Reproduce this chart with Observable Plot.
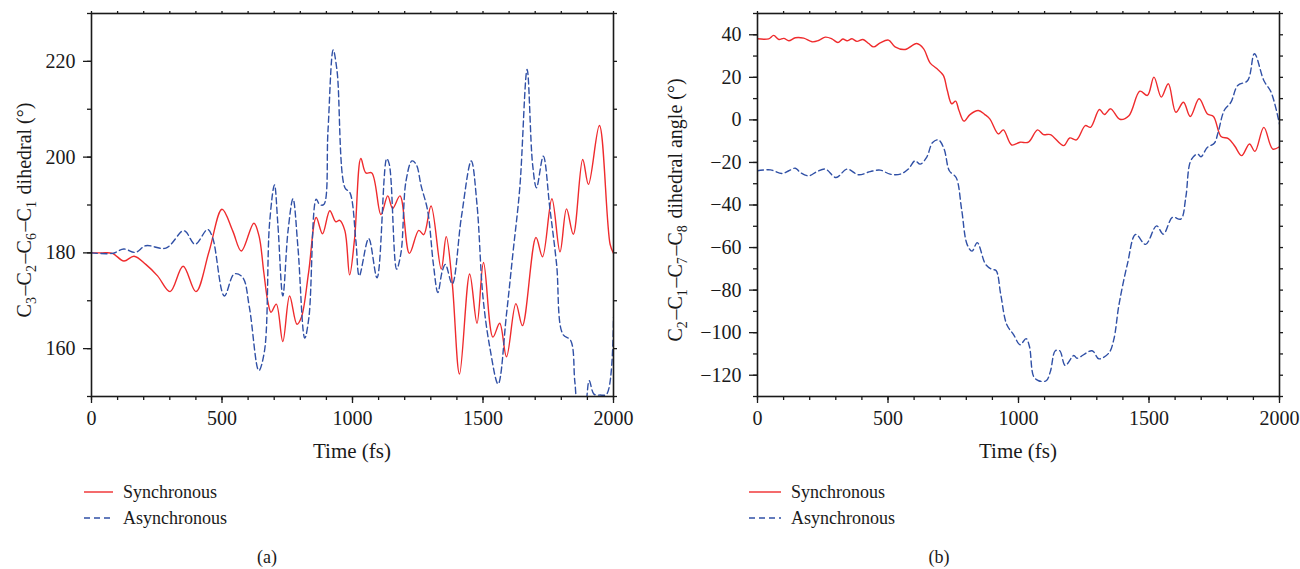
<!DOCTYPE html>
<html>
<head>
<meta charset="utf-8">
<script src="https://cdn.jsdelivr.net/npm/d3@7"></script>
<script src="https://cdn.jsdelivr.net/npm/@observablehq/plot@0.6"></script>
<style>
  html, body { margin: 0; padding: 0; background: #fff; }
  #root { position: relative; width: 1300px; height: 569px; overflow: hidden; font-family: "Liberation Serif", "DejaVu Serif", serif; color: #1a1a1a; }
  .panel { position: absolute; top: 0; }
  .legend { position: absolute; font-size: 18px; }
  .legend .row { display: flex; align-items: center; height: 26px; }
  .cap { position: absolute; font-size: 18px; width: 60px; text-align: center; }
</style>
</head>
<body>
<div id="root"></div>
<script>
// ---------- data (time in fs, angle in degrees) ----------
const xMajor = [0, 500, 1000, 1500, 2000];
const xMinor = d3.range(0, 2001, 100);

const leftYMajor = [160, 180, 200, 220];
const leftYMinor = d3.range(150, 231, 10);
const rightYMajor = [-120, -100, -80, -60, -40, -20, 0, 20, 40];
const rightYMinor = d3.range(-130, 51, 10);

const seriesNames = ["Synchronous", "Asynchronous"];

const leftSync = [[0,180],[40,180],[80,179.9],[124,178.3],[163,179.3],[208,177.6],[253,175.2],[301,171.9],[351,177.2],[400,171.9],[451,180.4],[500,189.1],[541,184.6],[574,180.4],[622,186.2],[642,183.5],[660,176],[676,169.7],[688,167.6],[708,169.3],[733,161.5],[759,171],[787,165.1],[804,166.5],[832,176],[861,187.4],[885,184],[913,188.8],[936,186.5],[951,186.8],[971,184.6],[989,175.4],[1008,183],[1032,199.7],[1051,196.7],[1074,196.7],[1109,188],[1135,191.9],[1154,189.3],[1182,191.9],[1218,179.9],[1254,184.7],[1273,183.8],[1301,189.8],[1340,176.6],[1359,183.4],[1382,173.8],[1410,154.7],[1449,175.6],[1477,165.3],[1502,178],[1538,162.4],[1564,165.3],[1590,158.3],[1626,169.4],[1651,164.8],[1703,183.2],[1728,179.2],[1764,191.3],[1795,180.2],[1820,189.2],[1846,183.9],[1882,199.5],[1904,194.3],[1946,206.6],[1987,181.8],[2000,179.9]];

const leftAsync = [[0,180],[80,179.9],[124,180.8],[169,180.1],[208,181.5],[285,181],[349,184.6],[362,184.4],[397,181.8],[445,184.9],[464,183.2],[509,171],[547,175.6],[579,174.9],[605,168.6],[641,155.4],[663,159.6],[682,186],[701,194.2],[714,186],[733,171],[753,184.6],[772,191.3],[791,181.1],[817,162.2],[833,166.5],[861,191.2],[874,190.1],[890,190.1],[906,205.4],[926,222.4],[941,217.9],[971,193.6],[990,192.6],[1013,182.5],[1026,175.2],[1062,183],[1094,174.8],[1131,199.7],[1141,198.5],[1169,176.6],[1186,180.1],[1205,195],[1228,199.2],[1244,198.5],[1263,194],[1288,188.8],[1310,177.6],[1327,171.7],[1344,176.2],[1356,177.6],[1382,173.5],[1417,187.4],[1455,199.2],[1477,190.1],[1500,170.7],[1526,160.3],[1558,152.6],[1590,167.2],[1615,180.1],[1641,193.6],[1669,218.3],[1690,198.5],[1705,193.6],[1731,200.2],[1756,189.4],[1782,177.6],[1805,163.1],[1836,161.7],[1852,153],[1868,146],[1890,147.5],[1907,153.3],[1925,150.5],[1949,150.3],[1974,150.5],[2000,166.5]];

const rightSync = [[0,38.1],[43,38.1],[62,39.7],[82,37.8],[101,38.3],[120,37.2],[145,38.6],[177,38.4],[209,36.7],[234,37.3],[260,38.9],[285,38.1],[308,36.4],[327,38],[343,37.2],[362,38.1],[381,36.9],[404,37.8],[426,35.9],[445,34.3],[470,36.2],[502,37.5],[527,34.3],[566,33.1],[610,35.9],[636,33.5],[661,26.8],[687,24.1],[712,20.9],[727,13.9],[744,7.6],[759,8.8],[772,4.4],[791,-0.6],[814,2.5],[846,4.4],[871,2.5],[890,0.5],[923,-6.6],[942,-4.7],[974,-11.8],[1006,-10.5],[1038,-10.5],[1073,-4.7],[1096,-6.9],[1122,-6.9],[1173,-12.1],[1196,-8.5],[1222,-9.4],[1256,-2.7],[1276,-3.5],[1310,4.9],[1329,2.5],[1353,5.2],[1388,0.3],[1423,2],[1465,13.5],[1494,11.5],[1519,20.1],[1547,10.7],[1574,17],[1603,3.6],[1632,8.3],[1658,1.6],[1692,9.9],[1724,2.8],[1747,1.6],[1776,-7.8],[1804,-8.8],[1829,-12.4],[1855,-16.8],[1885,-11.3],[1906,-14.8],[1940,-3.5],[1974,-13.7],[2000,-12.6]];

const rightAsync = [[0,-23.9],[50,-23.5],[94,-25.2],[120,-23.9],[145,-22.7],[164,-24.7],[196,-26.3],[228,-24.3],[260,-23.1],[301,-27.1],[343,-23.1],[387,-25.8],[432,-24.3],[470,-23.6],[508,-25.5],[547,-25.5],[578,-23.1],[604,-19.2],[623,-20.8],[648,-17.6],[671,-10.6],[693,-9.4],[715,-13.7],[735,-23.9],[761,-27.1],[782,-42],[803,-58.5],[822,-61.7],[842,-57.7],[874,-67.9],[899,-70.3],[914,-70.8],[932,-82.1],[955,-96.2],[981,-100.9],[1006,-105.7],[1029,-102.8],[1042,-106.5],[1058,-120.6],[1077,-122.6],[1106,-122.6],[1122,-118.3],[1141,-108.5],[1158,-108.5],[1179,-115.4],[1212,-110.7],[1224,-112],[1282,-108.5],[1308,-112.3],[1346,-109.6],[1365,-103.3],[1385,-86.8],[1417,-67.9],[1449,-53.8],[1487,-58.5],[1529,-49.8],[1555,-53.7],[1590,-45.8],[1622,-46.6],[1641,-36.4],[1660,-19.2],[1686,-16],[1699,-17.3],[1724,-12.9],[1750,-11],[1765,-5.8],[1788,4.4],[1814,8.3],[1840,16.2],[1878,18.5],[1904,31.1],[1940,18.5],[1968,13],[2000,-2]];

// y-axis label pieces: [text, subscript]
const leftYLabel = [["C","3"],["–C","2"],["–C","6"],["–C","1"],[" dihedral (°)",""]];
const rightYLabel = [["C","2"],["–C","1"],["–C","7"],["–C","8"],[" dihedral angle (°)",""]];
const xLabel = "Time (fs)";
const captions = ["(a)", "(b)"];

// ---------- styles ----------
const FONT = "'Liberation Serif', 'DejaVu Serif', serif";
const RED = "#ef2b2d";
const BLUE = "#3050a6";
const INK = "#1a1a1a";
const W = 650, H = 470, MT = 13, MB = 74;
const fmt = d3.format("d");

function chart({sync, async, yDomain, yMajor, yMinor, ml, mr, yLabel, yLabelX}) {
  const svg = Plot.plot({
    width: W, height: H,
    marginLeft: ml, marginRight: mr, marginTop: MT, marginBottom: MB,
    style: {fontFamily: FONT, fontSize: "20px", color: INK, background: "white", overflow: "visible"},
    x: {domain: [0, 2000]},
    y: {domain: yDomain},
    marks: [
      Plot.line(sync, {x: d => d[0], y: d => d[1], stroke: RED, strokeWidth: 1.4, curve: "catmull-rom", clip: true}),
      Plot.line(async, {x: d => d[0], y: d => d[1], stroke: BLUE, strokeWidth: 1.4, strokeDasharray: "6,3.5", curve: "catmull-rom", clip: true}),
      Plot.frame({stroke: INK, strokeWidth: 1.6}),
      Plot.axisY({ticks: yMajor, tickSize: 8, tickPadding: 8, tickFormat: fmt, label: null, strokeWidth: 1.3}),
      Plot.axisY({ticks: yMinor, tickSize: 4, tickFormat: () => "", label: null, strokeWidth: 1.3}),
      Plot.axisY({ticks: yMinor, anchor: "right", tickSize: 3, tickFormat: () => "", label: null, strokeWidth: 1.3}),
      Plot.axisX({ticks: xMajor, tickSize: 7, tickPadding: 7, tickFormat: fmt, label: null, strokeWidth: 1.3}),
      Plot.axisX({ticks: xMinor, tickSize: 4, tickFormat: () => "", label: null, strokeWidth: 1.3}),
      Plot.axisX({ticks: xMinor, anchor: "top", tickSize: 3, tickFormat: () => "", label: null, strokeWidth: 1.3})
    ]
  });
  const s = d3.select(svg);
  // x label
  s.append("text")
    .attr("x", (ml + W - mr) / 2).attr("y", 458)
    .attr("text-anchor", "middle").attr("font-size", 21).attr("fill", INK)
    .attr("font-family", FONT)
    .text(xLabel);
  // y label with subscripts
  const t = s.append("text")
    .attr("transform", `translate(${yLabelX},210) rotate(-90)`)
    .attr("text-anchor", "middle").attr("font-size", 20).attr("fill", INK)
    .attr("font-family", FONT);
  yLabel.forEach(([main, sub]) => {
    t.append("tspan").text(main);
    if (sub) {
      t.append("tspan").attr("font-size", 14).attr("dy", 5).text(sub);
      t.append("tspan").attr("dy", -5).text("\u200A");
    }
  });
  return svg;
}

const root = document.getElementById("root");

const left = chart({sync: leftSync, async: leftAsync, yDomain: [150, 230], yMajor: leftYMajor, yMinor: leftYMinor, ml: 91, mr: 37, yLabel: leftYLabel, yLabelX: 31});
const right = chart({sync: rightSync, async: rightAsync, yDomain: [-130, 50], yMajor: rightYMajor, yMinor: rightYMinor, ml: 107, mr: 21, yLabel: rightYLabel, yLabelX: 32});

[left, right].forEach((svg, i) => {
  const d = document.createElement("div");
  d.className = "panel";
  d.style.left = (i * 650) + "px";
  d.appendChild(svg);
  root.appendChild(d);
});

// legends
function legend(x, lineW, gap) {
  const div = document.createElement("div");
  div.className = "legend";
  div.style.left = x + "px";
  div.style.top = "479px";
  seriesNames.forEach((name, i) => {
    const row = document.createElement("div");
    row.className = "row";
    const dash = i === 0 ? "" : `stroke-dasharray="6,4"`;
    const col = i === 0 ? RED : BLUE;
    row.innerHTML = `<svg width="${lineW}" height="6" style="margin-right:${gap}px"><line x1="0" x2="${lineW}" y1="3" y2="3" stroke="${col}" stroke-width="1.4" ${dash}/></svg><span>${name}</span>`;
    div.appendChild(row);
  });
  root.appendChild(div);
}
legend(84, 29, 10);
legend(749, 32, 10);

// captions
[[267, captions[0]], [939, captions[1]]].forEach(([cx, txt]) => {
  const c = document.createElement("div");
  c.className = "cap";
  c.style.left = (cx - 30) + "px";
  c.style.top = "547px";
  c.textContent = txt;
  root.appendChild(c);
});
</script>
</body>
</html>
